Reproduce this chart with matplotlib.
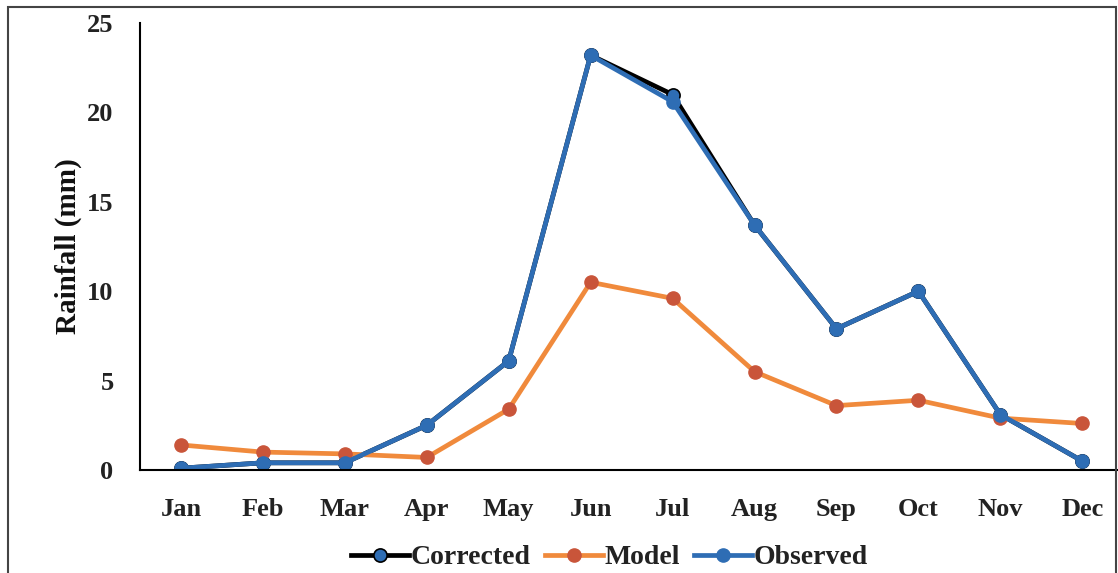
import matplotlib.pyplot as plt
from matplotlib.patches import Rectangle

months = ['Jan', 'Feb', 'Mar', 'Apr', 'May', 'Jun', 'Jul', 'Aug', 'Sep', 'Oct', 'Nov', 'Dec']
corrected = [0.1, 0.4, 0.4, 2.5, 6.1, 23.2, 21.0, 13.7, 7.9, 10.0, 3.1, 0.5]
model = [1.4, 1.0, 0.9, 0.7, 3.4, 10.5, 9.6, 5.5, 3.6, 3.9, 2.9, 2.6]
observed = [0.1, 0.4, 0.4, 2.5, 6.1, 23.2, 20.6, 13.7, 7.9, 10.0, 3.1, 0.5]

plt.rcParams['font.family'] = 'Liberation Serif'
plt.rcParams['font.weight'] = 'bold'

fig = plt.figure(figsize=(11.18, 5.73), dpi=100)
ax = fig.add_axes([0.1252, 0.1798, 0.8795, 0.780])

x = range(len(months))
ax.plot(x, corrected, color='black', lw=3.4, marker='o', ms=9.5,
        mfc='#2e6db4', mec='black', mew=1.2, label='Corrected')
ax.plot(x, model, color='#f08a3c', lw=3.4, marker='o', ms=9.5,
        mfc='#c9553a', mec='#c9553a', label='Model')
ax.plot(x, observed, color='#2e6db4', lw=3.4, marker='o', ms=9.5,
        mfc='#2e6db4', mec='#2e6db4', label='Observed')

ax.set_xlim(-0.5, 11.5)
ax.set_ylim(0, 25)
ax.set_yticks([0, 5, 10, 15, 20, 25])
ax.set_xticks(list(x))
ax.set_xticklabels(months)
ax.tick_params(axis='both', length=0, labelsize=19, colors='#222222')
ax.tick_params(axis='y', pad=19)
ax.tick_params(axis='x', pad=20)
ax.spines['top'].set_visible(False)
ax.spines['right'].set_visible(False)
ax.spines['left'].set_linewidth(1.5)
ax.spines['bottom'].set_linewidth(1.5)
ax.set_ylabel('Rainfall (mm)', fontsize=21, fontweight='bold', labelpad=4,
              color='#111111')

leg = fig.legend(loc='center', bbox_to_anchor=(0.545, 0.027), ncol=3, frameon=False,
                 fontsize=20, handlelength=2.1, handletextpad=0.05, columnspacing=0.5)
for t in leg.get_texts():
    t.set_color('#222222')

# outer frame around the chart
fig.patches.append(Rectangle((8 / 1118, -0.05), 1108 / 1118, 1.05 - 7 / 573,
                             transform=fig.transFigure, fill=False,
                             edgecolor='#444444', lw=1.5))

fig.savefig('out.png', dpi=100)
